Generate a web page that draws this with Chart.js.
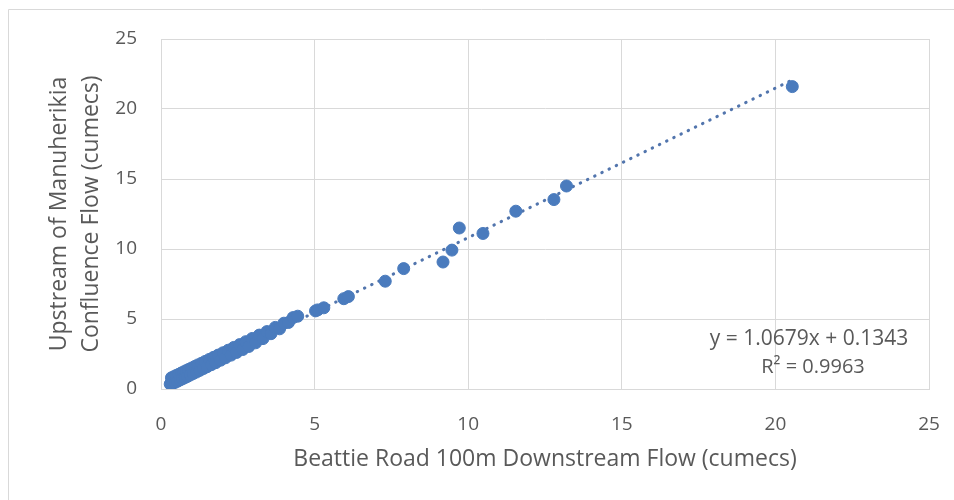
<!DOCTYPE html>
<html>
<head>
<meta charset="utf-8">
<script src="https://cdn.jsdelivr.net/npm/chart.js@4.4.0/dist/chart.umd.min.js"></script>
<style>
  html, body { margin: 0; padding: 0; background: #fff; }
  #wrap { width: 954px; height: 500px; }
</style>
</head>
<body>
<div id="wrap"><canvas id="flowChart"></canvas></div>
<script>
// downstream flow (x) and upstream flow (y), cumecs
var downstreamFlow = [0.30, 0.34, 0.38, 0.42, 0.46, 0.50, 0.54, 0.58, 0.62, 0.66, 0.70, 0.74, 0.78, 0.82, 0.86, 0.90, 0.95, 1.00, 1.05, 1.10,
    1.15, 1.20, 1.26, 1.32, 1.38, 1.44, 1.50, 1.57, 1.64, 1.71, 1.78, 1.86, 1.94, 2.02, 2.10, 2.19, 2.28, 2.37, 2.46, 2.56,
    2.66, 2.76, 2.86, 2.97, 3.08, 3.20, 3.32, 3.45, 3.58, 3.72, 3.86, 4.00, 4.15, 4.30, 4.45,
    5.03, 5.10, 5.30, 5.95, 6.10, 7.30, 7.90, 9.18, 9.47, 9.71, 10.48, 11.55, 12.79, 13.20, 20.55];
var upstreamFlow = [0.35, 0.80, 0.40, 0.88, 0.48, 0.97, 0.56, 1.05, 0.65, 1.14, 0.73, 1.22, 0.82, 1.31, 0.90, 1.40, 1.00, 1.50, 1.11, 1.61,
    1.21, 1.72, 1.33, 1.84, 1.46, 1.97, 1.59, 2.11, 1.74, 2.26, 1.88, 2.42, 2.06, 2.59, 2.23, 2.77, 2.42, 2.97, 2.61, 3.17,
    2.82, 3.38, 3.04, 3.61, 3.30, 3.85, 3.60, 4.10, 3.95, 4.40, 4.30, 4.70, 4.75, 5.10, 5.20,
    5.58, 5.65, 5.80, 6.45, 6.60, 7.70, 8.60, 9.07, 9.92, 11.50, 11.11, 12.70, 13.53, 14.50, 21.60];

// linear trendline ends, as drawn
var trendX = [0.30, 20.55];
var trendY = [0.45, 22.08];
var trendLabel = ['y = 1.0679x + 0.1343', 'R\u00b2 = 0.9963'];

var axisTicks = [0, 5, 10, 15, 20, 25];

var pts = downstreamFlow.map(function (x, i) { return { x: x, y: upstreamFlow[i] }; });
var trend = trendX.map(function (x, i) { return { x: x, y: trendY[i] }; });

var fontName = "'Open Sans', 'Liberation Sans', sans-serif";
var textGrey = '#595959';
var gridGrey = '#d9d9d9';

var frameAndLabel = {
    id: 'frameAndLabel',
    beforeDraw: function (chart) {
        var ctx = chart.ctx;
        ctx.save();
        ctx.fillStyle = '#fff';
        ctx.fillRect(0, 0, chart.width, chart.height);
        ctx.strokeStyle = gridGrey;
        ctx.lineWidth = 1;
        ctx.beginPath();
        ctx.moveTo(8.5, chart.height + 2);
        ctx.lineTo(8.5, 9.5);
        ctx.lineTo(chart.width + 2, 9.5);
        ctx.stroke();
        ctx.restore();
    },
    afterDatasetsDraw: function (chart) {
        var ctx = chart.ctx;
        var area = chart.chartArea;
        ctx.save();
        ctx.fillStyle = textGrey;
        ctx.textAlign = 'center';
        ctx.textBaseline = 'middle';
        ctx.font = '21px ' + fontName;
        ctx.fillText(trendLabel[0], area.right - 120, area.bottom - 50);
        ctx.font = '20px ' + fontName;
        ctx.fillText(trendLabel[1], area.right - 116, area.bottom - 22);
        ctx.restore();
    }
};

var chartCtx = document.getElementById('flowChart').getContext('2d');
new Chart(chartCtx, {
    type: 'scatter',
    data: {
        datasets: [{
            label: 'Flow',
            data: pts,
            backgroundColor: '#4a7bbd',
            borderColor: '#4a7bbd',
            borderWidth: 1,
            pointRadius: 6,
            pointHoverRadius: 6
        },
        {
            label: 'Linear trend',
            type: 'line',
            data: trend,
            borderColor: '#5275ad',
            borderWidth: 3,
            borderDash: [0.5, 7.5],
            borderCapStyle: 'round',
            pointRadius: 0,
            fill: false
        }]
    },
    options: {
        responsive: true,
        maintainAspectRatio: false,
        animation: false,
        layout: {
            padding: { top: 39, right: 25, left: 0, bottom: 0 }
        },
        plugins: {
            legend: { display: false },
            tooltip: { enabled: false }
        },
        scales: {
            x: {
                type: 'linear',
                min: 0,
                max: 25,
                afterBuildTicks: function (scale) {
                    scale.ticks = axisTicks.map(function (v) { return { value: v }; });
                },
                afterFit: function (scale) {
                    scale.height = 111;
                    scale.paddingLeft = 0;
                    scale.paddingRight = 0;
                },
                grid: { color: gridGrey, drawTicks: false },
                border: { color: gridGrey },
                ticks: { color: textGrey, padding: 24, font: { family: fontName, size: 19 } },
                title: {
                    display: true,
                    text: 'Beattie Road 100m Downstream Flow (cumecs)',
                    color: textGrey,
                    font: { family: fontName, size: 23 },
                    padding: { top: 0, bottom: 27 }
                }
            },
            y: {
                type: 'linear',
                min: 0,
                max: 25,
                afterBuildTicks: function (scale) {
                    scale.ticks = axisTicks.map(function (v) { return { value: v }; });
                },
                afterFit: function (scale) {
                    scale.width = 161;
                    scale.paddingTop = 0;
                    scale.paddingBottom = 0;
                },
                grid: { color: gridGrey, drawTicks: false },
                border: { color: gridGrey },
                ticks: { color: textGrey, padding: 24, font: { family: fontName, size: 19 } },
                title: {
                    display: true,
                    text: ['Upstream of Manuherikia', 'Confluence Flow (cumecs)'],
                    color: textGrey,
                    font: { family: fontName, size: 23, lineHeight: 1.39 },
                    padding: { top: 43, bottom: 0 }
                }
            }
        }
    },
    plugins: [frameAndLabel]
});
</script>
</body>
</html>
